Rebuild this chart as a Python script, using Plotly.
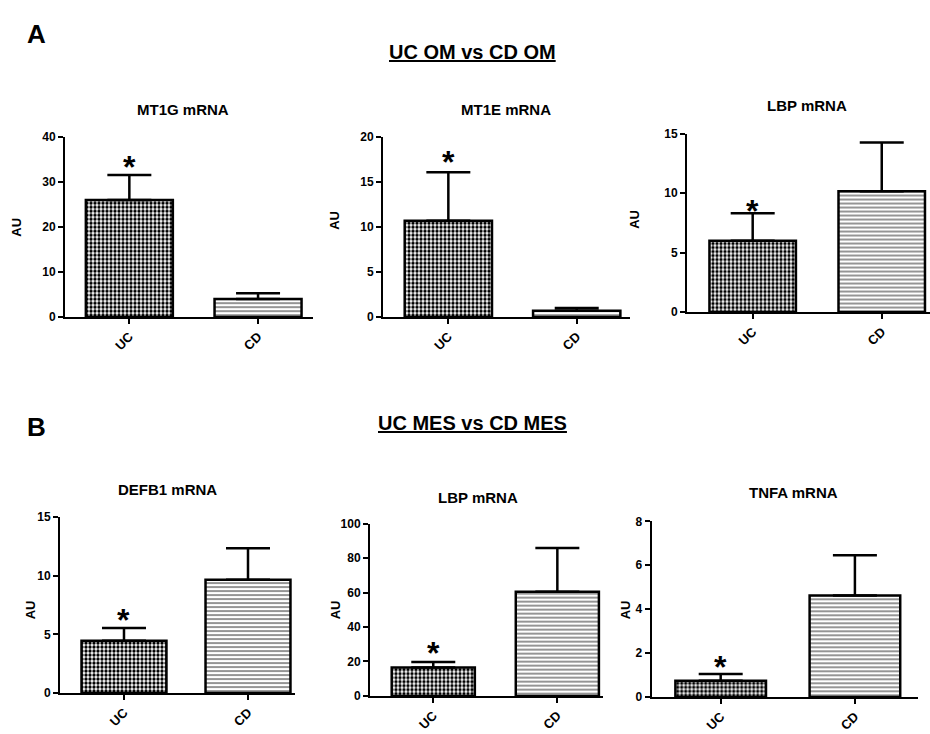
import plotly.graph_objects as go

# ---------------- data ----------------
categories = ["UC", "CD"]

panel_titles = ["MT1G mRNA", "MT1E mRNA", "LBP mRNA", "DEFB1 mRNA", "LBP mRNA", "TNFA mRNA"]

mt1g_mean = [26.0, 4.0]
mt1g_sem = [5.6, 1.3]
mt1e_mean = [10.7, 0.7]
mt1e_sem = [5.4, 0.3]
lbp_om_mean = [6.0, 10.15]
lbp_om_sem = [2.3, 4.1]
defb1_mean = [4.45, 9.65]
defb1_sem = [1.1, 2.7]
lbp_mes_mean = [16.5, 60.5]
lbp_mes_sem = [3.2, 25.3]
tnfa_mean = [0.74, 4.62]
tnfa_sem = [0.30, 1.83]

y_ticks = [
    [0, 10, 20, 30, 40],
    [0, 5, 10, 15, 20],
    [0, 5, 10, 15],
    [0, 5, 10, 15],
    [0, 20, 40, 60, 80, 100],
    [0, 2, 4, 6, 8],
]
significant = ["UC", "UC", "UC", "UC", "UC", "UC"]

section_labels = ["A", "B"]
section_titles = ["UC OM vs CD OM", "UC MES vs CD MES"]
y_label = "AU"

means = [mt1g_mean, mt1e_mean, lbp_om_mean, defb1_mean, lbp_mes_mean, tnfa_mean]
sems = [mt1g_sem, mt1e_sem, lbp_om_sem, defb1_sem, lbp_mes_sem, tnfa_sem]

# ---------------- layout geometry (pixels) ----------------
W, H = 930, 734
# (x_left, x_right, y_top, y_bottom) of each plot area in pixels
boxes = [
    (65, 313, 132.7, 316),
    (383, 630, 132.7, 316),
    (687, 930, 129, 311),
    (60, 295, 520, 699.3),
    (370, 603, 526.7, 702.3),
    (651.7, 918, 524.3, 703.3),
]
x_ranges = [
    (-0.50, 1.427),
    (-0.509, 1.415),
    (-0.509, 1.374),
    (-0.516, 1.379),
    (-0.51, 1.368),
    (-0.514, 1.47),
]
bar_widths = [0.676, 0.68, 0.67, 0.685, 0.67, 0.675]
title_pos = [(183, 104), (506, 104), (807, 100), (167, 492), (478, 500), (793, 495)]
au_pos = [(17, 225), (335, 218), (635, 217), (30, 615), (335, 615), (625, 615)]
star_shift = [8, 10, 2, 8, 9, 7]

FONT = "Liberation Sans"

fill_styles = [
    dict(shape=".", fgcolor="black", bgcolor="white", size=4, solidity=0.55),
    dict(shape="-", fgcolor="#7a7a7a", bgcolor="white", size=4, solidity=0.4),
]

fig = go.Figure()

for i in range(6):
    ax = "" if i == 0 else str(i + 1)
    xl, xr, yt, yb = boxes[i]
    fig.add_trace(go.Bar(
        x=categories,
        y=means[i],
        width=bar_widths[i],
        xaxis="x" + ax,
        yaxis="y" + ax,
        marker=dict(
            color="white",
            line=dict(color="black", width=2.5),
            pattern=dict(
                shape=[fill_styles[0]["shape"], fill_styles[1]["shape"]],
                fgcolor=[fill_styles[0]["fgcolor"], fill_styles[1]["fgcolor"]],
                bgcolor=["white", "white"],
                size=[fill_styles[0]["size"], fill_styles[1]["size"]],
                solidity=[fill_styles[0]["solidity"], fill_styles[1]["solidity"]],
                fillmode="replace",
            ),
        ),
        error_y=dict(
            type="data",
            array=sems[i],
            arrayminus=[0, 0],
            symmetric=False,
            color="black",
            thickness=2.5,
            width=22,
        ),
        showlegend=False,
        hoverinfo="skip",
    ))

    fig.update_layout(**{
        "xaxis" + ax: dict(
            domain=[xl / W, xr / W],
            anchor="y" + ax,
            range=list(x_ranges[i]),
            showline=True, linecolor="black", linewidth=2,
            ticks="outside", ticklen=5, tickwidth=1.5, tickcolor="black",
            tickangle=-45,
            tickfont=dict(family=FONT, size=13, color="black", weight="bold"),
            showgrid=False, zeroline=False, fixedrange=True,
        ),
        "yaxis" + ax: dict(
            domain=[1 - yb / H, 1 - yt / H],
            anchor="x" + ax,
            range=[0, y_ticks[i][-1]],
            tickvals=y_ticks[i],
            showline=True, linecolor="black", linewidth=2,
            ticks="outside", ticklen=5, tickwidth=1.5, tickcolor="black",
            tickfont=dict(family=FONT, size=12, color="black", weight="bold"),
            showgrid=False, zeroline=False, fixedrange=True,
        ),
    })

    # panel title
    tx, ty = title_pos[i]
    fig.add_annotation(x=tx / W, y=1 - ty / H, xref="paper", yref="paper",
                       text="<b>%s</b>" % panel_titles[i], showarrow=False,
                       xanchor="center", yanchor="middle",
                       font=dict(family=FONT, size=15, color="black"))
    # y label
    axx, axy = au_pos[i]
    fig.add_annotation(x=axx / W, y=1 - axy / H, xref="paper", yref="paper",
                       text="<b>%s</b>" % y_label, showarrow=False, textangle=-90,
                       xanchor="center", yanchor="middle",
                       font=dict(family=FONT, size=13, color="black"))
    # significance star
    k = categories.index(significant[i])
    fig.add_annotation(x=significant[i], y=means[i][k] + sems[i][k],
                       xref="x" + ax, yref="y" + ax,
                       text="<b>*</b>", showarrow=False,
                       xanchor="center", yanchor="middle", yshift=star_shift[i],
                       font=dict(family=FONT, size=32, color="black"))

# section headers
sec_pos = [((36, 28), (472, 46)), ((36, 428), (472, 424))]
for j in range(2):
    (lx, ly), (sx, sy) = sec_pos[j]
    fig.add_annotation(x=lx / W, y=1 - ly / H, xref="paper", yref="paper",
                       text="<b>%s</b>" % section_labels[j], showarrow=False,
                       xanchor="center", yanchor="middle",
                       font=dict(family=FONT, size=26, color="black"))
    fig.add_annotation(x=sx / W, y=1 - sy / H, xref="paper", yref="paper",
                       text="<b><u>%s</u></b>" % section_titles[j], showarrow=False,
                       xanchor="center", yanchor="middle",
                       font=dict(family=FONT, size=20, color="black"))

fig.update_layout(
    width=W, height=H,
    margin=dict(l=0, r=0, t=0, b=0),
    paper_bgcolor="white", plot_bgcolor="white",
    bargap=0.3,
)

fig.write_html(
    "out.html",
    config={"displayModeBar": False},
    post_script="document.body.style.margin='0';document.body.style.overflow='hidden';",
)
